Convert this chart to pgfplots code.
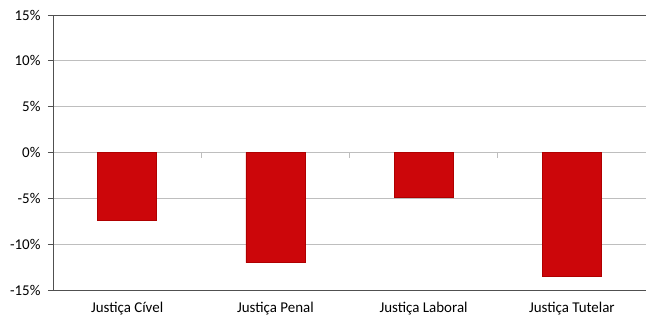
\documentclass[border=0pt]{standalone}
\usepackage{pgfplots}
\pgfplotsset{compat=1.18}
\usepackage{fontspec}
\setmainfont{Carlito}
\definecolor{barred}{RGB}{204,6,10}
\definecolor{baredge}{RGB}{175,0,0}
\definecolor{gridg}{RGB}{190,190,190}
\definecolor{axisg}{RGB}{80,80,80}
\begin{document}
\begin{tikzpicture}
\begin{axis}[
  scale only axis,
  width=593bp, height=275bp,
  xmin=-0.5, xmax=3.5,
  ymin=-15, ymax=15,
  ytick={-15,-10,...,15},
  yticklabel={\pgfmathprintnumber{\tick}\%},
  /pgf/number format/assume math mode=true,
  xtick=data,
  xticklabels={Justiça Cível,Justiça Penal,Justiça Laboral,Justiça Tutelar},
  major x tick style={draw=none},
  ymajorgrids,
  grid style={gridg, line width=0.8pt},
  axis x line*=bottom,
  axis y line*=left,
  axis line style={axisg, line width=1pt, -},
  y tick style={axisg, line width=0.8pt},
  major tick length=5bp,
  tick align=outside,
  tick label style={text=black},
  yticklabel style={font=\fontsize{15}{17}\selectfont, xshift=-4bp},
  xticklabel style={font=\fontsize{15}{17}\selectfont, yshift=-4bp},
  ybar, bar width=59bp,
  clip=false,
]
\addplot[fill=barred, draw=baredge, line width=0.6pt] coordinates {
  (0,-7.4) (1,-12.0) (2,-4.85) (3,-13.5)
};
\draw[axisg, line width=1pt] (axis cs:-0.5,15) -- (axis cs:3.5,15);
\draw[gridg, line width=0.8pt] (axis cs:0.5,0) -- ([yshift=-5bp]axis cs:0.5,0);
\draw[gridg, line width=0.8pt] (axis cs:1.5,0) -- ([yshift=-5bp]axis cs:1.5,0);
\draw[gridg, line width=0.8pt] (axis cs:2.5,0) -- ([yshift=-5bp]axis cs:2.5,0);
\end{axis}
\pgfresetboundingbox
\path ([xshift=-53bp,yshift=-27bp]current axis.south west) rectangle ([xshift=0bp,yshift=15bp]current axis.north east);
\end{tikzpicture}
\end{document}
